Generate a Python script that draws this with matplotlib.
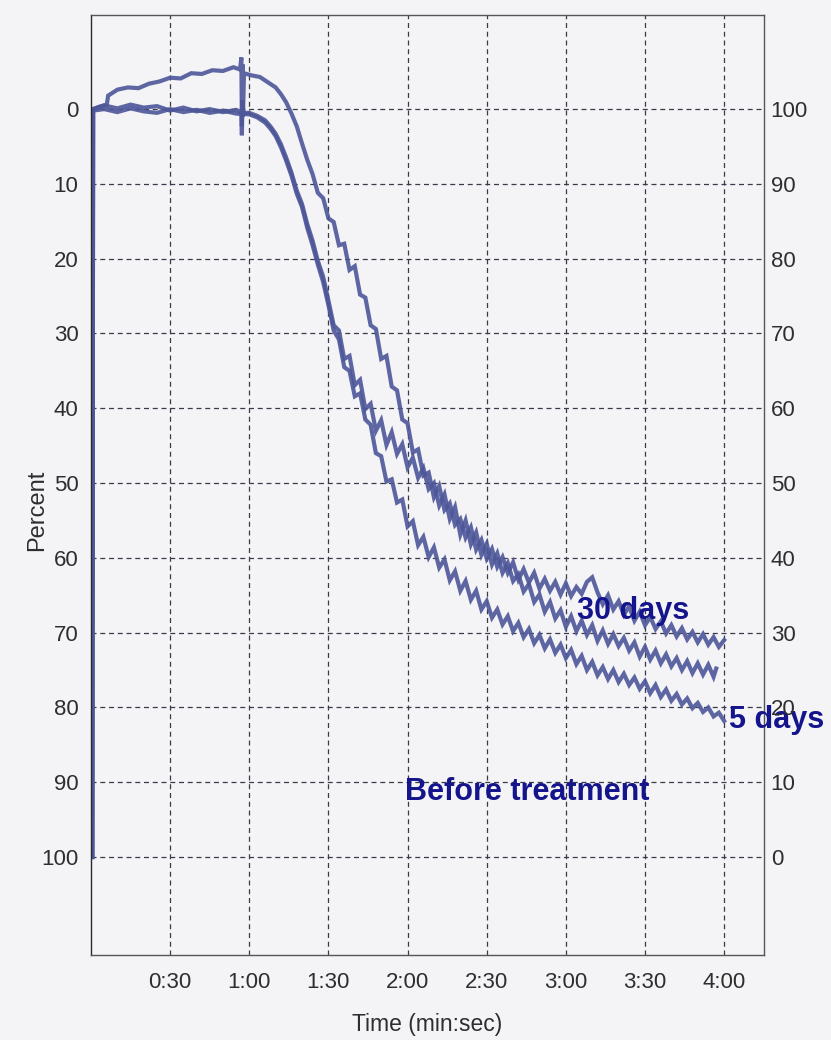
import numpy as np
import matplotlib
matplotlib.use('Agg')
import matplotlib.pyplot as plt

plt.rcParams['font.family'] = ['Liberation Sans', 'DejaVu Sans']

# time in seconds, value in percent (left axis, 0 on top)
t_30d = [0.5, 0.8, 3, 6, 6.5, 10, 14, 18, 22, 26, 30, 34, 38, 42, 46, 50, 54,
         56.5, 57, 57.2, 57.4, 57.6, 58, 61, 64, 67, 70, 72, 74, 76, 78, 80,
         82, 84, 86, 88, 90, 92, 94, 96, 98, 100, 102, 104, 106, 108, 110,
         112, 114, 116, 118, 120, 122, 124, 126, 128, 130, 132, 134, 136, 138,
         140, 142, 144, 146, 148, 150, 152, 154, 156, 158, 160, 162, 164, 166,
         168, 170, 172, 174, 176, 178, 180, 182, 184, 186, 188, 190, 192, 194,
         196, 198, 200, 202, 204, 206, 208, 210, 212, 214, 216, 218, 220, 222,
         224, 226, 228, 230, 232, 234, 236, 238, 240]
v_30d = [100, 0, -0.3, -0.6, -1.8, -2.6, -2.9, -2.8, -3.4, -3.7, -4.2, -4.1,
         -4.8, -4.7, -5.2, -5.1, -5.6, -5.3, -6.9, 2.3, -6.0, 1.0, -4.8, -4.5,
         -4.3, -3.6, -2.9, -2.0, -0.9, 0.6, 2.3, 4.6, 6.8, 8.7, 11.2, 11.9,
         14.6, 15.1, 18.2, 18.0, 21.5, 21.0, 24.8, 25.2, 28.9, 29.4, 33.4,
         33.0, 37.1, 37.6, 41.5, 42.0, 45.9, 45.5, 49.0, 48.6, 51.9, 50.4,
         53.6, 52.7, 55.6, 54.8, 57.3, 55.9, 58.9, 57.6, 60.1, 58.8, 61.2,
         59.9, 62.0, 60.6, 62.9, 61.5, 63.3, 62.0, 64.1, 62.8, 64.4, 63.2,
         64.9, 63.4, 65.1, 63.9, 64.8, 63.2, 62.6, 64.6, 66.2, 65.0, 66.9,
         65.8, 67.6, 66.5, 68.4, 67.2, 69.0, 67.9, 69.5, 68.5, 70.1, 69.0,
         70.5, 69.4, 70.9, 69.9, 71.3, 70.2, 71.6, 70.6, 71.9, 71.0]

t_5d = [0.5, 0.8, 5, 10, 15, 20, 25, 30, 35, 40, 45, 50, 55, 57, 57.2, 57.4,
        57.8, 60, 63, 66, 68, 70, 72, 74, 76, 78, 80, 82, 84, 86, 88, 90, 92,
        94, 96, 98, 100, 102, 104, 106, 108, 110, 112, 114, 116, 118, 120,
        122, 124, 126, 128, 130, 132, 134, 136, 138, 140, 142, 144, 146, 148,
        150, 152, 154, 156, 158, 160, 162, 164, 166, 168, 170, 172, 174, 176,
        178, 180, 182, 184, 186, 188, 190, 192, 194, 196, 198, 200, 202, 204,
        206, 208, 210, 212, 214, 216, 218, 220, 222, 224, 226, 228, 230, 232,
        234, 236, 237]
v_5d = [100, 0, -0.5, -0.1, -0.6, -0.2, -0.4, 0.2, -0.2, 0.3, 0.0, 0.4, 0.1,
        0.4, 3.5, -1.2, 0.5, 0.5, 0.9, 1.5, 2.3, 3.3, 4.7, 6.5, 8.5, 10.9,
        12.7, 15.4, 17.6, 20.3, 22.4, 25.6, 28.9, 29.6, 33.4, 33.0, 36.9,
        36.2, 40.1, 39.4, 43.0, 41.6, 44.9, 43.2, 46.1, 44.8, 47.9, 46.6,
        49.3, 48.0, 50.8, 50.0, 53.0, 51.5, 54.8, 53.2, 56.9, 55.0, 58.2,
        56.6, 59.6, 58.1, 60.9, 59.4, 62.0, 60.7, 63.1, 62.2, 64.5, 63.5,
        65.9, 64.9, 67.2, 65.9, 68.1, 67.0, 69.2, 67.8, 69.8, 68.4, 70.3,
        69.0, 71.1, 69.7, 71.5, 70.2, 71.8, 70.7, 72.4, 71.3, 73.2, 71.9,
        73.6, 72.4, 74.1, 72.9, 74.5, 73.4, 75.0, 73.8, 75.4, 74.1, 75.6,
        74.3, 75.9, 74.8]

t_before = [0.5, 0.8, 5, 10, 15, 20, 25, 30, 35, 40, 45, 50, 55, 60, 63, 66,
            68, 70, 72, 74, 76, 78, 80, 82, 84, 86, 88, 90, 92, 94, 96, 98,
            100, 102, 104, 106, 108, 110, 112, 114, 116, 118, 120, 122, 124,
            126, 128, 130, 132, 134, 136, 138, 140, 142, 144, 146, 148, 150,
            152, 154, 156, 158, 160, 162, 164, 166, 168, 170, 172, 174, 176,
            178, 180, 182, 184, 186, 188, 190, 192, 194, 196, 198, 200, 202,
            204, 206, 208, 210, 212, 214, 216, 218, 220, 222, 224, 226, 228,
            230, 232, 234, 236, 238, 240]
v_before = [100, 0.2, 0.0, 0.4, -0.1, 0.3, 0.5, 0.0, 0.4, 0.1, 0.5, 0.2, 0.6,
            0.7, 1.1, 1.8, 2.6, 3.6, 5.1, 6.9, 8.9, 11.3, 13.1, 15.9, 18.2,
            20.8, 23.1, 26.2, 29.6, 30.8, 34.5, 35.0, 38.4, 38.0, 41.5, 42.2,
            46.0, 46.4, 49.8, 49.5, 52.6, 52.2, 55.8, 55.1, 58.3, 57.2, 59.9,
            58.6, 61.3, 60.2, 63.0, 61.8, 64.4, 63.1, 65.6, 64.4, 66.9, 65.8,
            68.0, 66.9, 68.9, 67.8, 69.8, 68.7, 70.6, 69.5, 71.4, 70.3, 72.1,
            70.9, 72.7, 71.6, 73.4, 72.3, 74.2, 73.1, 75.0, 73.9, 75.7, 74.6,
            76.2, 75.0, 76.6, 75.5, 77.0, 76.0, 77.5, 76.5, 78.1, 77.0, 78.6,
            77.6, 79.1, 78.2, 79.6, 78.8, 80.1, 79.4, 80.6, 80.0, 81.2, 80.7,
            81.8]

x_ticks = [30, 60, 90, 120, 150, 180, 210, 240]
x_labels = ['0:30', '1:00', '1:30', '2:00', '2:30', '3:00', '3:30', '4:00']
y_ticks = [0, 10, 20, 30, 40, 50, 60, 70, 80, 90, 100]

bg = '#f4f4f6'
line_c = '#4d5799'
txt_c = '#14148c'

fig = plt.figure(figsize=(8.31, 10.4), dpi=100, facecolor=bg)
ax = fig.add_axes([0.1095, 0.0817, 0.8095, 0.904])
ax.set_facecolor(bg)

for t, v in [(t_before, v_before), (t_5d, v_5d), (t_30d, v_30d)]:
    ax.plot(t, v, color=line_c, lw=3.0, alpha=0.9, solid_joinstyle='miter')

ax.set_xlim(0, 255)
ax.set_ylim(113.1, -12.6)
ax.set_xticks(x_ticks)
ax.set_xticklabels(x_labels)
ax.set_yticks(y_ticks)
ax.grid(True, color='#3a3a48', linestyle=(0, (4, 3)), linewidth=0.9)
ax.tick_params(length=0, labelsize=16, labelcolor='#2e2e2e')
ax.tick_params(axis='x', pad=12)
ax.tick_params(axis='y', pad=9)
for s in ax.spines.values():
    s.set_color('#555555')
    s.set_linewidth(1.0)
ax.spines['left'].set_color('#2a2a2a')

ax2 = ax.twinx()
ax2.set_ylim(100 - 113.1, 100 + 12.6)
ax2.set_yticks(y_ticks)
ax2.tick_params(length=0, labelsize=16, labelcolor='#2e2e2e', pad=5)
for s in ax2.spines.values():
    s.set_visible(False)

ax.set_ylabel('Percent', fontsize=17, color='#2e2e2e')
ax.yaxis.set_label_coords(-0.064, 0.473)
ax.set_xlabel('Time (min:sec)', fontsize=16.5, color='#2e2e2e')
ax.xaxis.set_label_coords(0.5, -0.062)

ax.text(205.4, 67.1, '30 days', fontsize=22, fontweight='bold', color=txt_c,
        ha='center', va='center')
ax.text(241.8, 81.7, '5 days', fontsize=22, fontweight='bold', color=txt_c,
        ha='left', va='center', clip_on=False)
ax.text(119.2, 91.3, 'Before treatment', fontsize=22, fontweight='bold',
        color=txt_c, ha='left', va='center')

fig.savefig('out.png', dpi=100, facecolor=bg)
